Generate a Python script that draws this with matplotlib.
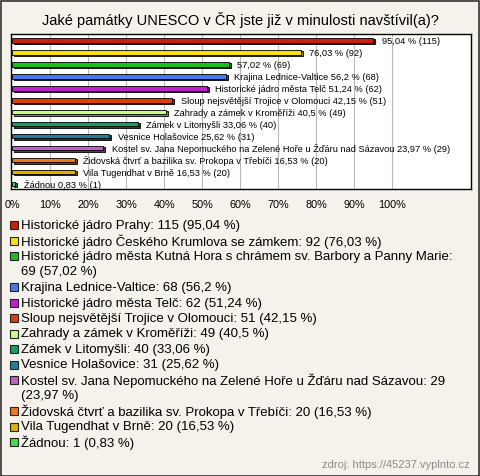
"""Jake pamatky UNESCO v CR - horizontal bar chart with legend list."""

import matplotlib
matplotlib.use("Agg")
import matplotlib.pyplot as plt
from matplotlib.patches import Rectangle

names = [
    "Historické jádro Prahy",
    "Historické jádro Českého Krumlova se zámkem",
    "Historické jádro města Kutná Hora s chrámem sv. Barbory a Panny Marie",
    "Krajina Lednice-Valtice",
    "Historické jádro města Telč",
    "Sloup nejsvětější Trojice v Olomouci",
    "Zahrady a zámek v Kroměříži",
    "Zámek v Litomyšli",
    "Vesnice Holašovice",
    "Kostel sv. Jana Nepomuckého na Zelené Hoře u Žďáru nad Sázavou",
    "Židovská čtvrť a bazilika sv. Prokopa v Třebíči",
    "Vila Tugendhat v Brně",
    "Žádnou",
]
counts = [115, 92, 69, 68, 62, 51, 49, 40, 31, 29, 20, 20, 1]
pcts = [95.04, 76.03, 57.02, 56.2, 51.24, 42.15, 40.5, 33.06, 25.62, 23.97, 16.53, 16.53, 0.83]
colors = ["#c8200c", "#f8e010", "#18c018", "#4a78ee", "#c020d0", "#e04008",
          "#c8ff80", "#10a060", "#20809a", "#c060c8", "#f07818", "#e0b000", "#40e040"]
shadows = ["#6a1004", "#8a7c00", "#0a600a", "#223c80", "#600c6a", "#782004",
           "#709048", "#065030", "#0c4050", "#603064", "#803c06", "#785c00", "#188018"]
# bars with long names only show the percentage
short_label = [True, True, True] + [False] * 10
xticks = [0, 10, 20, 30, 40, 50, 60, 70, 80, 90, 100]
xtick_labels = [f"{t}%" for t in xticks]
title = "Jaké památky UNESCO v ČR jste již v minulosti navštívil(a)?"
source = "zdroj: https://45237.vyplnto.cz"

W, H = 480, 477
BG = "#f4f2ea"
plt.rcParams["font.family"] = ["Liberation Sans", "DejaVu Sans"]


def fmt(p):
    s = f"{p:.2f}".rstrip("0").rstrip(".")
    return s.replace(".", ",")


fig = plt.figure(figsize=(W / 100, H / 100), dpi=100, facecolor=BG)
fig.patches.append(Rectangle((0.5 / W, 0.5 / H), 1 - 2 / W, 1 - 2 / H,
                             transform=fig.transFigure, fill=False,
                             edgecolor="#333333", linewidth=1.2))

fig.text(0.5, 1 - 20 / H, title, ha="center", va="center", fontsize=10.5)

ax_l, ax_r, ax_t, ax_b = 11, 471, 35, 190
ax = fig.add_axes([ax_l / W, 1 - ax_b / H, (ax_r - ax_l) / W, (ax_b - ax_t) / H])
ax.set_facecolor("white")
for s in ax.spines.values():
    s.set_color("black")
    s.set_linewidth(1)

n = len(names)
ypos = list(range(n))
bh = 0.38
dx, dy = 0.5, 0.1
ax.barh([y + dy for y in ypos], pcts, left=dx, height=bh, color=shadows,
        edgecolor="black", linewidth=0.6, zorder=2)
ax.barh(ypos, pcts, height=bh, color=colors, edgecolor="black",
        linewidth=0.6, zorder=3)

for y, p, c, nm, short in zip(ypos, pcts, counts, names, short_label):
    lab = f"{fmt(p)} % ({c})" if short else f"{nm} {fmt(p)} % ({c})"
    ax.text(p + 2.2, y, lab, va="center", ha="left", fontsize=6.7, zorder=4)

ax.set_xlim(-0.3, 120.8)
ax.set_ylim(12.42, -0.54)
ax.set_yticks([])
ax.set_xticks(xticks)
ax.set_xticklabels(xtick_labels, fontsize=7.8)
ax.tick_params(axis="x", length=0, pad=7)
for t in xticks[1:]:
    ax.axvline(t, color="#b8b8b8", linewidth=0.8, zorder=1)

# legend list below the chart
line_h = 15.5
y = 226
for nm, c, p, col in zip(names, counts, pcts, colors):
    txt = f"{nm}: {c} ({fmt(p)} %)"
    if nm.startswith("Historické jádro města Kutná"):
        txt = f"{nm}:\n{c} ({fmt(p)} %)"
    elif nm.startswith("Kostel"):
        txt = f"{nm}: {c}\n({fmt(p)} %)"
    fig.patches.append(Rectangle((10 / W, 1 - (y + 4) / H), 8 / W, 8 / H,
                                 transform=fig.transFigure, facecolor=col,
                                 edgecolor="#222222", linewidth=0.8))
    for ln in txt.split("\n"):
        fig.text(21 / W, 1 - y / H, ln, ha="left", va="center", fontsize=9.5)
        y += line_h

fig.text(470 / W, 1 - 465 / H, source, ha="right", va="center",
         fontsize=8, color="#8a8a8a")

fig.savefig("out.png", dpi=100, facecolor=BG)
